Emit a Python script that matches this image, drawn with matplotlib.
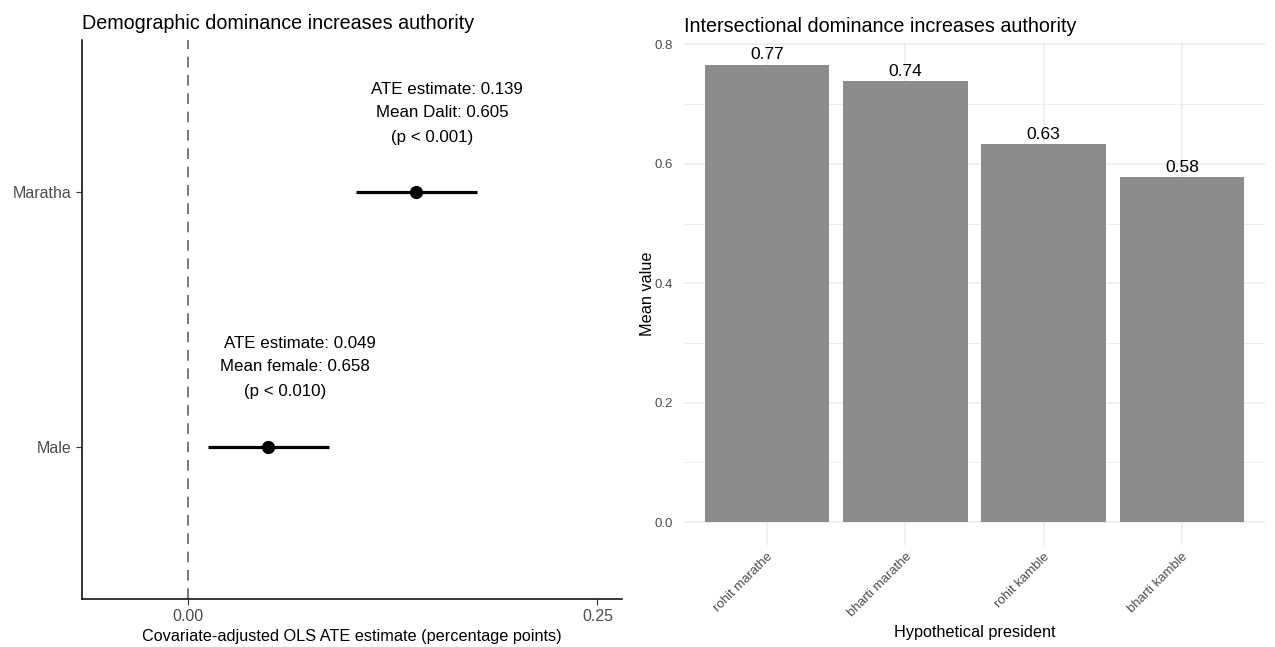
import matplotlib.pyplot as plt
import numpy as np

plt.rcParams['font.family'] = ['Liberation Sans', 'DejaVu Sans']

# left panel: ATE estimates with intervals
groups = ['Male', 'Maratha']
ate = [0.049, 0.139]
ci_low = [0.0122, 0.1027]
ci_high = [0.0862, 0.1767]
notes = [['ATE estimate: 0.049', 'Mean female: 0.658', '(p < 0.010)'],
         ['ATE estimate: 0.139', 'Mean Dalit: 0.605', '(p < 0.001)']]

# right panel: mean value per hypothetical president
presidents = ['rohit marathe', 'bharti marathe', 'rohit kamble', 'bharti kamble']
means = [0.766, 0.738, 0.633, 0.578]

fig = plt.figure(figsize=(12.75, 6.47), dpi=100)

ax1 = fig.add_axes([0.0643, 0.0742, 0.4235, 0.864])
ypos = np.arange(1, len(groups) + 1)
ax1.axvline(0, color='#555555', lw=1.1, ls=(0, (7, 5)), zorder=1)
ax1.hlines(ypos, ci_low, ci_high, color='black', lw=2.3, zorder=2)
ax1.plot(ate, ypos, 'o', color='black', ms=8.5, zorder=3)
for y, x, lines in zip(ypos, ate, notes):
    offs = [0.405, 0.315, 0.218]
    dx = [0.019, 0.016, 0.01]
    for line, o, d in zip(lines, offs, dx):
        ax1.text(x + d, y + o, line, ha='center', va='center', fontsize=12.2)
ax1.set_xlim(-0.0648, 0.265)
ax1.set_ylim(0.4, 2.6)
ax1.set_yticks(ypos)
ax1.set_yticklabels(groups)
ax1.set_xticks([0, 0.25])
ax1.set_xticklabels(['0.00', '0.25'])
ax1.tick_params(labelsize=11.5, labelcolor='#4D4D4D', length=4, width=0.8, color='#333333')
for s in ['top', 'right']:
    ax1.spines[s].set_visible(False)
for s in ['left', 'bottom']:
    ax1.spines[s].set_linewidth(1.1)
ax1.set_xlabel('Covariate-adjusted OLS ATE estimate (percentage points)', fontsize=11.7, labelpad=3)
ax1.set_title('Demographic dominance increases authority', loc='left', fontsize=14.2, pad=8)

ax2 = fig.add_axes([0.5365, 0.1577, 0.4557, 0.7774])
xpos = np.arange(len(presidents))
ax2.bar(xpos, means, width=0.9, color='#8C8C8C', zorder=2)
for x, v in zip(xpos, means):
    ax2.text(x, v + 0.004, f'{v:.2f}', ha='center', va='bottom', fontsize=12.5)
ax2.set_xlim(-0.6, 3.6)
ax2.set_ylim(-0.0383, 0.804)
ax2.set_yticks([0, 0.2, 0.4, 0.6, 0.8])
ax2.set_yticklabels(['0.0', '0.2', '0.4', '0.6', '0.8'])
ax2.set_yticks([0.1, 0.3, 0.5, 0.7], minor=True)
ax2.set_xticks(xpos)
ax2.set_xticklabels(presidents, rotation=45, ha='right', rotation_mode='anchor')
ax2.grid(True, which='major', color='#EBEBEB', lw=1.1, zorder=0)
ax2.grid(True, which='minor', axis='y', color='#EBEBEB', lw=0.6, zorder=0)
ax2.tick_params(which='both', length=0, labelsize=9.5, labelcolor='#4D4D4D')
ax2.tick_params(axis='x', pad=4)
ax2.tick_params(axis='y', pad=8)
for s in ax2.spines.values():
    s.set_visible(False)
ax2.set_ylabel('Mean value', fontsize=11.7, labelpad=0)
ax2.set_xlabel('Hypothetical president', fontsize=11.7, labelpad=4)
ax2.set_title('Intersectional dominance increases authority', loc='left', fontsize=14.2, pad=7)

fig.savefig('out.png', dpi=100)
